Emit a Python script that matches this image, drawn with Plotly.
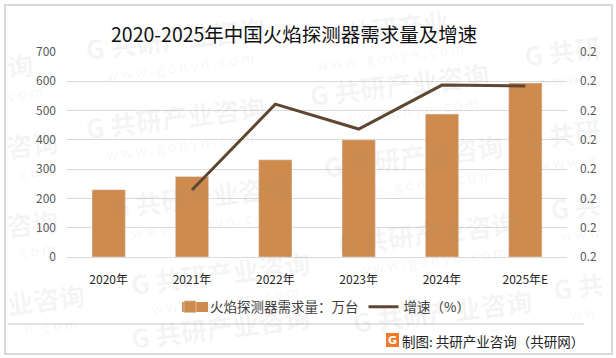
import plotly.graph_objects as go

categories = ["2020年", "2021年", "2022年", "2023年", "2024年", "2025年E"]
demand = [230, 275, 332, 400, 488, 594]
growth = [None, 0.1879, 0.2172, 0.2087, 0.2237, 0.2234]
title = "2020-2025年中国火焰探测器需求量及增速"
source = "制图: 共研产业咨询（共研网）"
legend_bar = "火焰探测器需求量：万台"
legend_line = "增速（%）"
# watermark: centre x, centre y, brand text, url text
watermarks = [
    (175, 38, "G 共研产业咨询", "w w w . g o n y n . c o m"),
    (399, 83, "G 共研产业咨询", "w w w . g o n y n . c o m"),
    (175, 117, "G 共研产业咨询", "w w w . g o n y n . c o m"),
    (413, 155, "G 共研产业咨询", "w w w . g o n y n . c o m"),
    (427, 232, "G 共研产业咨询", "w w w . g o n y n . c o m"),
    (220, 272, "G 共研产业咨询", "w w w . g o n y n . c o m"),
    (442, 310, "G 共研产业咨询", "w w w . g o n y n"),
    (200, 195, "G 共研产业咨询", "w w w . g o n y n . c o m"),
    (562, 50, "G 共研", "w w w . g"),
    (562, 133, "G 共研", "w w w . g"),
    (575, 205, "G 共", "w w w"),
    (578, 285, "G 共", "w w"),
    (20, 65, "询", "c o m"),
    (32, 143, "咨询", "c o m"),
    (32, 222, "咨询", "c o m"),
    (46, 298, "业咨询", "n . c o m"),
    (385, 28, "G 共研产业", "w w w . g o n y n . c o m"),
    (220, 326, "G 共研产业咨询", ""),
]

W, H = 616, 358
L, R, T, B = 67, 49, 52, 101
CJK = "Noto Sans CJK SC"
px = lambda x: (x - L) / (W - L - R)
py = lambda y: (H - B - y) / (H - T - B)


def note(text, x, y, size, color, family=CJK, angle=0, xanchor="center"):
    return dict(text=text, x=px(x), y=py(y), xref="paper", yref="paper", showarrow=False, xanchor=xanchor,
                yanchor="middle", textangle=angle, font=dict(family=family, size=size, color=color))


fig = go.Figure()
fig.add_trace(go.Bar(x=categories, y=demand, name=legend_bar, marker_color="#CF8B4E"))
fig.add_trace(go.Scatter(x=categories, y=growth, name=legend_line, mode="lines", yaxis="y2",
                         line=dict(color="#5E4630", width=3), connectgaps=False))

WM = "rgba(140,140,140,0.09)"
ann = []
for cx, cy, brand, url in watermarks:
    ann.append(note(f"<b>{brand}</b>", cx, cy, 26, WM, angle=-7))
    if url:
        ann.append(note(url, cx + 5, cy + 28, 14, WM, angle=-7))
ann.append(note(title, 294, 34, 19.5, "#111111"))
ann.append(note(source, 586, 341, 13.5, "#222222", xanchor="right"))
ann.append(note("<b>G</b>", 392.5, 340, 11, "white", family="DejaVu Sans"))

shapes = [
    dict(type="rect", xref="paper", yref="paper", x0=px(5), x1=px(612), y0=py(5), y1=py(354),
         line=dict(color="#D9D9D9", width=2)),
    dict(type="line", xref="paper", yref="paper", x0=px(8), x1=px(584), y0=py(324), y1=py(324),
         line=dict(color="#D9D9D9", width=1.5)),
    dict(type="rect", xref="paper", yref="paper", x0=px(386), x1=px(399), y0=py(333), y1=py(347),
         fillcolor="#F07A2A", line=dict(width=0)),
    dict(type="rect", xref="paper", yref="paper", x0=px(182), x1=px(208), y0=py(302), y1=py(312),
         fillcolor="#CF8B4E", line=dict(width=0)),
]

fig.update_layout(
    width=W, height=H, autosize=False, margin=dict(l=L, r=R, t=T, b=B),
    paper_bgcolor="white", plot_bgcolor="white", bargap=0.6,
    font=dict(family=CJK, size=12, color="#595959"),
    xaxis=dict(type="category", range=[-0.5, 5.5], showgrid=False, showline=True, linecolor="#D9D9D9", ticks="",
               tickfont=dict(size=12, color="#262626"), ticklabelstandoff=12),
    yaxis=dict(range=[0, 700], dtick=100, gridcolor="#D9D9D9", gridwidth=1, zeroline=False, ticks="",
               tickfont=dict(size=12, color="#595959"), ticklabelstandoff=10),
    yaxis2=dict(overlaying="y", side="right", range=[0.165, 0.235], tick0=0.165, dtick=0.01, tickformat=".1f",
                showgrid=False, zeroline=False, ticks="", tickfont=dict(size=12, color="#595959"),
                ticklabelstandoff=12),
    legend=dict(orientation="h", x=px(170), xanchor="left", y=py(307), yanchor="middle",
                font=dict(size=13.5, color="#404040"), bgcolor="rgba(0,0,0,0)", itemwidth=30),
    annotations=ann, shapes=shapes, showlegend=True,
)
fig.write_html("out.html", config=dict(displayModeBar=False), post_script="document.body.style.margin='0';")
